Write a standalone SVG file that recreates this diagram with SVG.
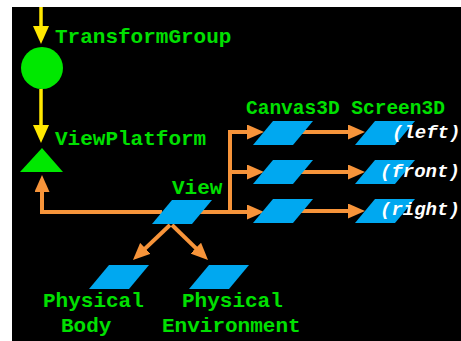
<svg xmlns="http://www.w3.org/2000/svg" width="461" height="341" viewBox="0 0 461 341">
<style>
.lbl{font-family:"Liberation Mono","Courier New",monospace;font-weight:bold;fill:#00e000;font-size:21px}
.wl{font-family:"Liberation Mono","Courier New",monospace;font-weight:bold;font-style:italic;fill:#ffffff;font-size:19px}
.pg{fill:#00a8f0}
.or{fill:none;stroke:#f7943a;stroke-width:4}
.ye{fill:none;stroke:#ffe800;stroke-width:3.5}
</style>
<defs>
<polygon id="para" points="20,0 60,0 40,24 0,24"/>
<marker id="ah" markerUnits="userSpaceOnUse" markerWidth="17" markerHeight="15" refX="4" refY="7.5" orient="auto">
<path d="M0,0 L17,7.5 L0,15 z" fill="#f7943a"/>
</marker>
<marker id="yh" markerUnits="userSpaceOnUse" markerWidth="18" markerHeight="16" refX="4" refY="8" orient="auto">
<path d="M0,0 L18,8 L0,16 z" fill="#ffe800"/>
</marker>
</defs>
<rect x="0" y="0" width="461" height="341" fill="#ffffff"/>
<rect x="12" y="7" width="449" height="334" fill="#000000"/>
<g id="connectors">
<path class="ye" d="M41,7 V30" marker-end="url(#yh)"/>
<path class="ye" d="M41,89 V129" marker-end="url(#yh)"/>
<path class="or" d="M162,212 H42 V188" marker-end="url(#ah)"/>
<path class="or" d="M200,212 H230 M230,130 V214"/>
<path class="or" d="M228,132 H251" marker-end="url(#ah)"/>
<path class="or" d="M230,172 H251" marker-end="url(#ah)"/>
<path class="or" d="M230,212 H251" marker-end="url(#ah)"/>
<path class="or" d="M300,132 H352" marker-end="url(#ah)"/>
<path class="or" d="M300,172 H352" marker-end="url(#ah)"/>
<path class="or" d="M300,211 H352" marker-end="url(#ah)"/>
<path class="or" d="M170,225 L142.4,251.1" marker-end="url(#ah)"/>
<path class="or" d="M172,225 L198.7,250.9" marker-end="url(#ah)"/>
</g>
<g id="transformgroup">
<circle cx="42" cy="68" r="21" fill="#00e800"/>
<text class="lbl" x="55" y="43">TransformGroup</text>
</g>
<g id="viewplatform">
<polygon points="42,148 63,172 20,172" fill="#00e800"/>
<text class="lbl" x="55" y="145">ViewPlatform</text>
</g>
<g id="view">
<use href="#para" class="pg" x="152" y="200"/>
<text class="lbl" x="172" y="194">View</text>
</g>
<g id="physical-body">
<use href="#para" class="pg" x="89" y="265"/>
<text class="lbl" x="43" y="307">Physical</text>
<text class="lbl" x="61" y="332">Body</text>
</g>
<g id="physical-environment">
<use href="#para" class="pg" x="189" y="265"/>
<text class="lbl" x="182" y="307">Physical</text>
<text class="lbl" x="162" y="332">Environment</text>
</g>
<g id="headers">
<text class="lbl" x="246" y="114" style="font-size:19.5px">Canvas3D Screen3D</text>
</g>
<g id="canvas-left"><use href="#para" class="pg" x="253" y="121"/></g>
<g id="canvas-front"><use href="#para" class="pg" x="253" y="160"/></g>
<g id="canvas-right"><use href="#para" class="pg" x="253" y="199"/></g>
<g id="screen-left">
<use href="#para" class="pg" x="355" y="121"/>
<text class="wl" x="392" y="138">(left)</text>
</g>
<g id="screen-front">
<use href="#para" class="pg" x="355" y="160"/>
<text class="wl" x="380" y="177">(front)</text>
</g>
<g id="screen-right">
<use href="#para" class="pg" x="355" y="199"/>
<text class="wl" x="380" y="215">(right)</text>
</g>
</svg>
